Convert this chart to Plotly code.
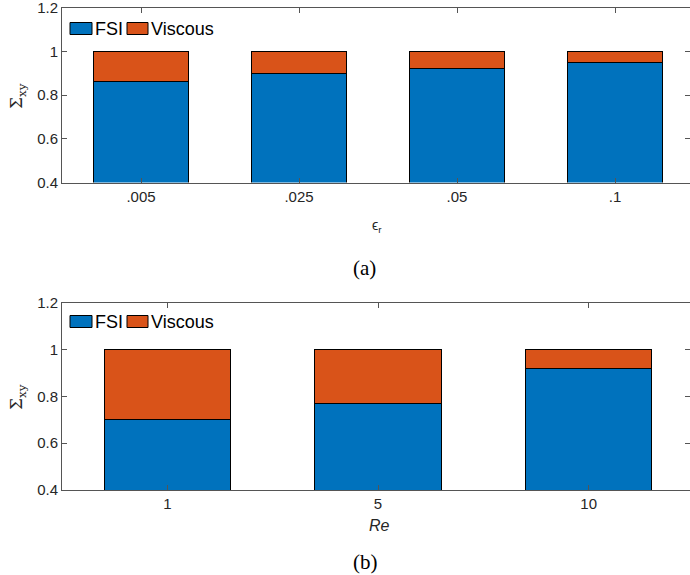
import plotly.graph_objects as go

# ---- data ----
eps_labels = [".005", ".025", ".05", ".1"]
eps_fsi = [0.86, 0.90, 0.92, 0.95]
eps_viscous = [0.14, 0.10, 0.08, 0.05]

re_labels = ["1", "5", "10"]
re_fsi = [0.70, 0.77, 0.92]
re_viscous = [0.30, 0.23, 0.08]

series_names = ["FSI", "Viscous"]
y_ticks = [0.4, 0.6, 0.8, 1.0, 1.2]
y_ticktext = ["0.4", "0.6", "0.8", "1", "1.2"]

BLUE = "#0072BD"
ORANGE = "#D95319"
AXC = "#262626"
LINEC = "#555555"

W, H = 690, 575
L_PAGE, R_PAGE = 62, 690
FULL_R = 694   # the original axes extend slightly past the crop
VIS = (R_PAGE - L_PAGE) / (FULL_R - L_PAGE)

fig = go.Figure()

def bar(x, y, name, color, xa, ya):
    return go.Bar(x=x, y=y, name=name, marker=dict(color=color, line=dict(color="black", width=1)),
                  xaxis=xa, yaxis=ya, showlegend=False)

fig.add_trace(bar(eps_labels, eps_fsi, series_names[0], BLUE, "x", "y"))
fig.add_trace(bar(eps_labels, eps_viscous, series_names[1], ORANGE, "x", "y"))
fig.add_trace(bar(re_labels, re_fsi, series_names[0], BLUE, "x2", "y2"))
fig.add_trace(bar(re_labels, re_viscous, series_names[1], ORANGE, "x2", "y2"))

def py(p):  # page y -> paper y
    return 1 - p / H

def xp(p):  # page x -> paper x
    return (p - L_PAGE) / (R_PAGE - L_PAGE)

top_dom = [py(182.6), py(7.5)]
bot_dom = [py(490), py(302.7)]

tickfont = dict(family="Liberation Sans, Arial, sans-serif", size=15, color=AXC)
axis_common = dict(showline=True, linecolor=LINEC, linewidth=1, mirror="ticks", ticks="inside",
                   ticklen=5, tickcolor=LINEC, showgrid=False, zeroline=False, tickfont=tickfont,
                   automargin=False, ticklabeloverflow="allow")

fig.update_layout(
    width=W, height=H,
    margin=dict(l=L_PAGE, r=W - R_PAGE, t=0, b=0, autoexpand=False),
    plot_bgcolor="white", paper_bgcolor="white",
    barmode="stack", bargap=0.4,
    xaxis=dict(domain=[0, 1], anchor="y", type="category",
               range=[-0.5, -0.5 + len(eps_labels) * VIS], **axis_common),
    yaxis=dict(domain=top_dom, anchor="x", range=[0.4, 1.2], tickvals=y_ticks, ticktext=y_ticktext, **axis_common),
    xaxis2=dict(domain=[0, 1], anchor="y2", type="category",
                range=[-0.5, -0.5 + len(re_labels) * VIS], **axis_common),
    yaxis2=dict(domain=bot_dom, anchor="x2", range=[0.4, 1.2], tickvals=y_ticks, ticktext=y_ticktext, **axis_common),
    showlegend=False,
)

ann = []
shapes = []
legfont = dict(family="Liberation Sans, Arial, sans-serif", size=18, color="black")
# legends (drawn as swatches + labels)
for ytop in [22.5, 315.5]:
    for (x0, x1, tx), name, col in zip([(70, 92, 93), (127, 148, 149)], series_names, [BLUE, ORANGE]):
        shapes.append(dict(type="rect", xref="paper", yref="paper", x0=xp(x0), x1=xp(x1),
                           y0=py(ytop + 12), y1=py(ytop), fillcolor=col, line=dict(color="black", width=1)))
        ann.append(dict(text=name, x=xp(tx), y=py(ytop + 6.5), xref="paper", yref="paper",
                        xanchor="left", yanchor="middle", showarrow=False, font=legfont))

def label(text, x, y, font, angle=0):
    ann.append(dict(text=text, x=xp(x), y=py(y), xref="paper", yref="paper", textangle=angle,
                    xanchor="center", yanchor="middle", showarrow=False, font=font))

# y titles
for yc in [96, 397]:
    label("Σ<sub>xy</sub>", 17, yc, dict(family="DejaVu Serif, serif", size=17, color=AXC), angle=-90)
# x titles
label("ϵ<sub>r</sub>", 377, 226, dict(family="Liberation Sans, Arial", size=14, color=AXC))
label("<i>Re</i>", 379, 525, dict(family="Liberation Sans, Arial", size=16, color=AXC))
# captions
label("(a)", 364, 268, dict(family="Liberation Serif, DejaVu Serif, serif", size=21, color="black"))
label("(b)", 365, 562, dict(family="Liberation Serif, DejaVu Serif, serif", size=21, color="black"))
fig.update_layout(annotations=ann, shapes=shapes)

fig.write_html("out.html", config={"displayModeBar": False},
               post_script="document.body.style.margin='0px';")
